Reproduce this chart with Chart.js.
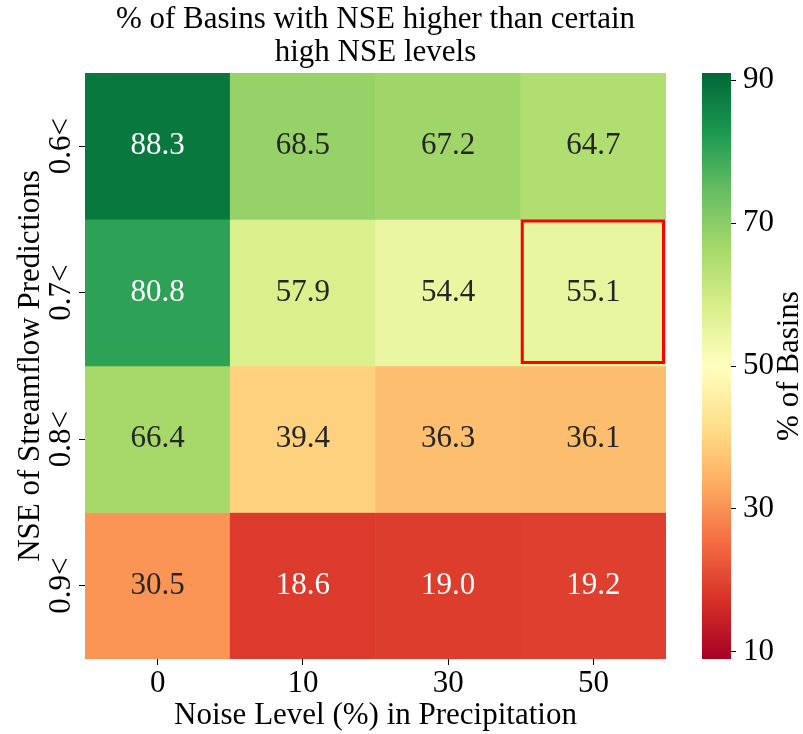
<!DOCTYPE html>
<html>
<head>
<meta charset="utf-8">
<script src="https://cdn.jsdelivr.net/npm/chart.js@4.4.1/dist/chart.umd.min.js"></script>
<style>
    html, body { margin: 0; padding: 0; background: #fff; }
    #wrap { position: relative; width: 803px; height: 734px; }
    #heat { position: absolute; left: 0; top: 0; }
    #cbar { position: absolute; left: 690px; top: 0; }
</style>
</head>
<body>
<div id="wrap">
    <canvas id="heat" width="690" height="734"></canvas>
    <canvas id="cbar" width="113" height="734"></canvas>
</div>
<script>
// Dados
const noiseLevels = ['0', '10', '30', '50'];
const nseLevels = ['0.6<', '0.7<', '0.8<', '0.9<'];
const nse06 = [88.3, 68.5, 67.2, 64.7];
const nse07 = [80.8, 57.9, 54.4, 55.1];
const nse08 = [66.4, 39.4, 36.3, 36.1];
const nse09 = [30.5, 18.6, 19.0, 19.2];
const rows = [nse06, nse07, nse08, nse09];
const colorTicks = [10, 30, 50, 70, 90];
const vmin = 9, vmax = 91;
const highlight = { row: 1, col: 3 };

const FONT = '"Liberation Serif", "DejaVu Serif", serif';
const FS = 31;
Chart.defaults.font.family = FONT;
Chart.defaults.font.size = FS;
Chart.defaults.color = '#000';

// Mapa de cores RdYlGn
const rdylgn = ['#a50026', '#d73027', '#f46d43', '#fdae61', '#fee08b', '#ffffbf',
                '#d9ef8b', '#a6d96a', '#66bd63', '#1a9850', '#006837'];

function hexToRgb(h) {
    return [1, 3, 5].map(i => parseInt(h.substr(i, 2), 16));
}

function cmap(v) {
    let t = (v - vmin) / (vmax - vmin);
    t = Math.max(0, Math.min(1, t)) * 10;
    const i = Math.min(9, Math.floor(t));
    const f = t - i;
    const a = hexToRgb(rdylgn[i]), b = hexToRgb(rdylgn[i + 1]);
    return a.map((c, k) => Math.round(c + (b[k] - c) * f));
}

function luminance(rgb) {
    const lin = rgb.map(c => {
        c = c / 255;
        return c <= 0.03928 ? c / 12.92 : Math.pow((c + 0.055) / 1.055, 2.4);
    });
    return 0.2126 * lin[0] + 0.7152 * lin[1] + 0.0722 * lin[2];
}

const css = rgb => `rgb(${rgb[0]}, ${rgb[1]}, ${rgb[2]})`;

// Valores dentro das células
const cellLabels = {
    id: 'cellLabels',
    afterDatasetsDraw(chart) {
        const ctx = chart.ctx;
        ctx.save();
        ctx.font = `${FS}px ${FONT}`;
        ctx.textAlign = 'center';
        ctx.textBaseline = 'middle';
        chart.data.datasets.forEach((ds, r) => {
            chart.getDatasetMeta(r).data.forEach((el, c) => {
                const v = ds.values[c];
                ctx.fillStyle = luminance(cmap(v)) > 0.408 ? 'rgb(38, 38, 38)' : '#fff';
                ctx.fillText(v.toFixed(1), el.x, (el.y + el.base) / 2);
            });
        });
        // Destaque em vermelho
        const el = chart.getDatasetMeta(highlight.row).data[highlight.col];
        const top = Math.min(el.y, el.base);
        const h = Math.abs(el.base - el.y);
        ctx.strokeStyle = '#ff0000';
        ctx.lineWidth = 3;
        ctx.strokeRect(el.x - el.width / 2 + 1.5, top + 1.5, el.width - 4, h - 5);
        ctx.restore();
    }
};

// Rótulos do eixo y girados
const yTickLabels = {
    id: 'yTickLabels',
    afterDraw(chart) {
        const ctx = chart.ctx;
        const scale = chart.scales.y;
        ctx.save();
        ctx.font = `${FS}px ${FONT}`;
        ctx.fillStyle = '#000';
        ctx.textAlign = 'center';
        ctx.textBaseline = 'alphabetic';
        scale.ticks.forEach((t, i) => {
            ctx.save();
            ctx.translate(chart.chartArea.left - 15, scale.getPixelForValue(t.value));
            ctx.rotate(-Math.PI / 2);
            ctx.fillText(nseLevels[i], 0, 0);
            ctx.restore();
        });
        ctx.restore();
    }
};

new Chart(document.getElementById('heat'), {
    type: 'bar',
    data: {
        labels: noiseLevels,
        datasets: rows.map((vals, r) => ({
            label: nseLevels[r],
            data: vals.map(() => 1),
            values: vals,
            backgroundColor: vals.map(v => css(cmap(v))),
            borderWidth: 0,
            barPercentage: 1,
            categoryPercentage: 1,
            stack: 'cells'
        }))
    },
    options: {
        responsive: false,
        animation: false,
        layout: { padding: { left: 0, right: 24, top: 0, bottom: 0 } },
        plugins: {
            legend: { display: false },
            tooltip: { enabled: false },
            title: {
                display: true,
                fullSize: false,
                text: ['% of Basins with NSE higher than certain', 'high NSE levels'],
                font: { size: FS, weight: 'normal', lineHeight: 1.08 },
                color: '#000',
                padding: { top: 3, bottom: 3 }
            }
        },
        scales: {
            x: {
                type: 'category',
                offset: true,
                border: { display: false },
                grid: { drawOnChartArea: false, drawTicks: true, tickLength: 6, offset: false, color: '#000' },
                ticks: { padding: 0, maxRotation: 0 },
                title: { display: true, text: 'Noise Level (%) in Precipitation', padding: 0 },
                afterFit(scale) { scale.height = 75; }
            },
            y: {
                type: 'linear',
                stacked: true,
                min: 0,
                max: 4,
                reverse: true,
                border: { display: false },
                grid: { drawOnChartArea: false, drawTicks: true, tickLength: 6, color: '#000' },
                ticks: { display: false },
                afterBuildTicks(scale) {
                    scale.ticks = nseLevels.map((_, i) => ({ value: i + 0.5 }));
                },
                title: { display: true, text: 'NSE of Streamflow Predictions', padding: { top: 12, bottom: 0 } },
                afterFit(scale) { scale.width = 85; }
            }
        }
    },
    plugins: [cellLabels, yTickLabels]
});

// Barra de cores
const cbarTitle = {
    id: 'cbarTitle',
    afterDraw(chart) {
        const ctx = chart.ctx;
        const area = chart.chartArea;
        ctx.save();
        ctx.font = `${FS}px ${FONT}`;
        ctx.fillStyle = '#000';
        ctx.textAlign = 'center';
        ctx.textBaseline = 'middle';
        ctx.translate(chart.width - 13, (area.top + area.bottom) / 2);
        ctx.rotate(-Math.PI / 2);
        ctx.fillText('% of Basins', 0, 0);
        ctx.restore();
    }
};

new Chart(document.getElementById('cbar'), {
    type: 'bar',
    data: {
        labels: [''],
        datasets: [{
            data: [[vmin, vmax]],
            backgroundColor(context) {
                const chart = context.chart;
                const y = chart.scales.y;
                if (!chart.chartArea || !y) return rdylgn[5];
                const g = chart.ctx.createLinearGradient(0, y.getPixelForValue(vmin), 0, y.getPixelForValue(vmax));
                rdylgn.forEach((c, i) => g.addColorStop(i / 10, c));
                return g;
            },
            borderWidth: 0,
            barPercentage: 1,
            categoryPercentage: 1
        }]
    },
    options: {
        responsive: false,
        animation: false,
        layout: { padding: { left: 12, top: 73, bottom: 75, right: 0 } },
        plugins: { legend: { display: false }, tooltip: { enabled: false } },
        scales: {
            x: { display: false },
            y: {
                position: 'right',
                min: vmin,
                max: vmax,
                border: { display: false },
                grid: { drawOnChartArea: false, drawTicks: true, tickLength: 5, color: '#000' },
                afterBuildTicks(scale) {
                    scale.ticks = colorTicks.map(v => ({ value: v }));
                },
                ticks: { padding: 7 },
                afterFit(scale) { scale.width = 72; }
            }
        }
    },
    plugins: [cbarTitle]
});
</script>
</body>
</html>
